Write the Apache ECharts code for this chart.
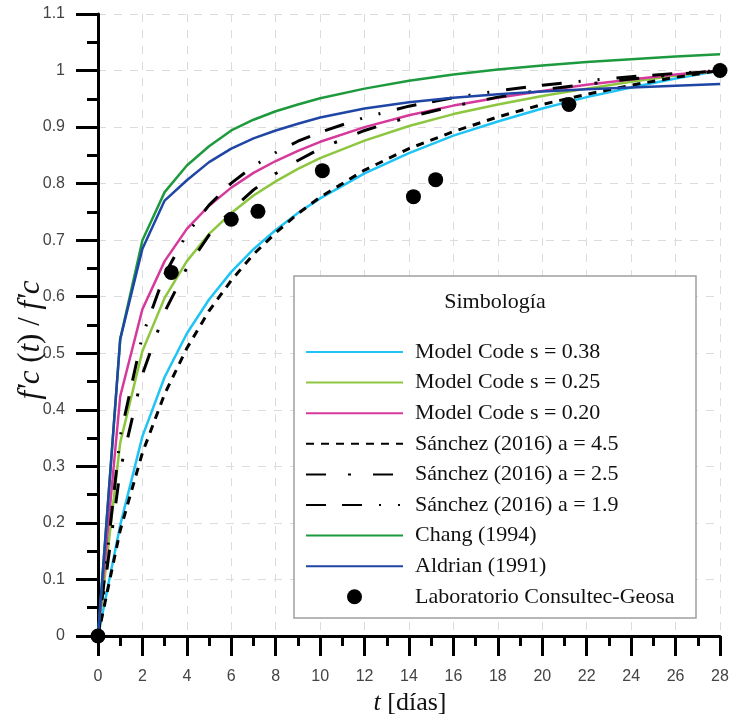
<!DOCTYPE html>
<html>
<head>
<meta charset="utf-8">
<script src="https://cdn.jsdelivr.net/npm/echarts@6/dist/echarts.min.js"></script>
<style>html,body{margin:0;padding:0;background:#fff}#c{width:730px;height:719px}</style>
</head>
<body>
<div id="c"></div>
<script>
// Days (x values)
const days = [0,1,2,3,4,5,6,7,8,9,10,12,14,16,18,20,22,24,26,28];
// Series values (ratio f'c(t)/f'c)
const mc038 = [0,0.196,0.353,0.458,0.535,0.595,0.644,0.684,0.718,0.748,0.774,0.818,0.854,0.885,0.910,0.933,0.953,0.970,0.986,1.000];
const mc025 = [0,0.342,0.504,0.598,0.663,0.711,0.748,0.779,0.804,0.826,0.845,0.876,0.902,0.923,0.940,0.955,0.968,0.980,0.991,1.000];
const mc020 = [0,0.424,0.578,0.663,0.720,0.761,0.793,0.819,0.840,0.858,0.874,0.900,0.921,0.938,0.952,0.964,0.975,0.984,0.993,1.000];
const san45 = [0,0.187,0.324,0.428,0.509,0.575,0.629,0.675,0.713,0.747,0.776,0.824,0.862,0.892,0.918,0.940,0.958,0.974,0.988,1.000];
const san25 = [0,0.293,0.463,0.573,0.651,0.709,0.753,0.789,0.818,0.841,0.862,0.894,0.918,0.937,0.953,0.966,0.976,0.985,0.993,1.000];
const san19 = [0,0.353,0.531,0.639,0.711,0.762,0.801,0.831,0.855,0.875,0.891,0.917,0.937,0.952,0.964,0.974,0.982,0.989,0.995,1.000];
const chang = [0,0.525,0.700,0.785,0.832,0.866,0.894,0.913,0.928,0.940,0.951,0.968,0.982,0.993,1.002,1.009,1.015,1.020,1.025,1.029];
const aldrian = [0,0.525,0.685,0.770,0.806,0.838,0.862,0.880,0.894,0.906,0.917,0.933,0.944,0.952,0.958,0.963,0.967,0.970,0.973,0.976];
// Laboratory measurements
const labDays = [0,3.3,6.0,7.2,10.1,14.2,15.2,21.2,28];
const labVals = [0,0.643,0.737,0.751,0.823,0.777,0.807,0.940,1.000];
// Axis ticks
const xTicks = {min:0,max:28,interval:2};
const yTicks = {min:0,max:1.1,interval:0.1};
const names = ['Model Code s = 0.38','Model Code s = 0.25','Model Code s = 0.20','Sánchez (2016) a = 4.5','Sánchez (2016) a = 2.5','Sánchez (2016) a = 1.9','Chang (1994)','Aldrian (1991)','Laboratorio Consultec-Geosa'];

const pair = (xs, ys) => xs.map((x,i)=>[x, ys[i]]);
const serif = '"Liberation Serif","Times New Roman",serif';
const sans = '"Liberation Sans",Arial,sans-serif';

function lineSeries(name, vals, color, width, dash){
  return {name, type:'line', data:pair(days, vals), symbol:'none', smooth:false,
    lineStyle:{color, width, type: dash || 'solid'}, itemStyle:{color}};
}

const chart = echarts.init(document.getElementById('c'));
chart.setOption({
  animation:false,
  grid:{left:98, right:10, top:14, bottom:83, outerBoundsMode:'none'},
  xAxis:{type:'value', min:xTicks.min, max:xTicks.max, interval:xTicks.interval,
    axisLine:{show:true, onZero:false, lineStyle:{color:'#000', width:3}},
    axisTick:{show:true, inside:false, length:20, lineStyle:{color:'#000', width:3}},
    minorTick:{show:true, splitNumber:2, length:10, lineStyle:{color:'#000', width:3}},
    splitLine:{show:true, lineStyle:{color:'#dcdcdc', width:1, type:[8,8]}},
    axisLabel:{margin:33, fontSize:16, color:'#444', fontFamily:sans}
  },
  yAxis:{type:'value', min:yTicks.min, max:yTicks.max, interval:yTicks.interval,
    axisLine:{show:true, onZero:false, lineStyle:{color:'#000', width:3}},
    axisTick:{show:true, inside:false, length:22, lineStyle:{color:'#000', width:3}},
    minorTick:{show:true, splitNumber:2, length:11, lineStyle:{color:'#000', width:3}},
    splitLine:{show:true, lineStyle:{color:'#dcdcdc', width:1, type:[8,8]}},
    axisLabel:{margin:33, fontSize:16, color:'#444', fontFamily:sans}
  },
  legend:{orient:'vertical', left:305, top:341, padding:0, z:10, itemWidth:97, itemHeight:15, itemGap:8.6,
    data: names.map((n,i)=> i===8 ? {name:n, icon:'circle', itemStyle:{color:'#000', opacity:1}} : {name:n, itemStyle:{color:'rgba(0,0,0,0)', borderWidth:0, opacity:0}}),
    textStyle:{fontFamily:serif, fontSize:22, color:'#111', lineHeight:20, padding:[0,0,0,7]}
  },
  graphic:[
    {type:'rect', z:5, shape:{x:294, y:276, width:402, height:342},
     style:{fill:'#fff', stroke:'#a0a0a0', lineWidth:1.5}},
    {type:'text', z:6, x:495, y:302, style:{text:'Simbología', fontFamily:serif, fontSize:22, fill:'#111', align:'center', verticalAlign:'middle'}},
    {type:'text', z:6, x:410, y:703, style:{text:'{i|t} [días]', fontFamily:serif, fontSize:26, fill:'#111', align:'center', verticalAlign:'middle',
      rich:{i:{fontFamily:serif, fontStyle:'italic', fontSize:26, fill:'#111'}}}},
    {type:'text', z:6, x:31, y:340, rotation:Math.PI/2, style:{text:"{i|f'c} ({i|t}) / {i|f'c}", fontFamily:serif, fontSize:31, fill:'#111', align:'center', verticalAlign:'middle',
      rich:{i:{fontFamily:serif, fontStyle:'italic', fontSize:31, fill:'#111'}}}}
  ],
  series:[
    lineSeries(names[0], mc038, '#1fc4f4', 2.5),
    lineSeries(names[1], mc025, '#8dc63f', 2.5),
    lineSeries(names[2], mc020, '#d6399c', 2.5),
    lineSeries(names[3], san45, '#000', 3, [8,7]),
    lineSeries(names[4], san25, '#000', 3, [20,22,3,22]),
    lineSeries(names[5], san19, '#000', 3, [20,16,20,17,2,17,2,17]),
    lineSeries(names[6], chang, '#1e9a3e', 2.5),
    lineSeries(names[7], aldrian, '#1f45a5', 2.5),
    {name:names[8], type:'scatter', data:pair(labDays, labVals), symbol:'circle', symbolSize:15, z:3,
     itemStyle:{color:'#000', opacity:1}}
  ]
});
</script>
</body>
</html>
